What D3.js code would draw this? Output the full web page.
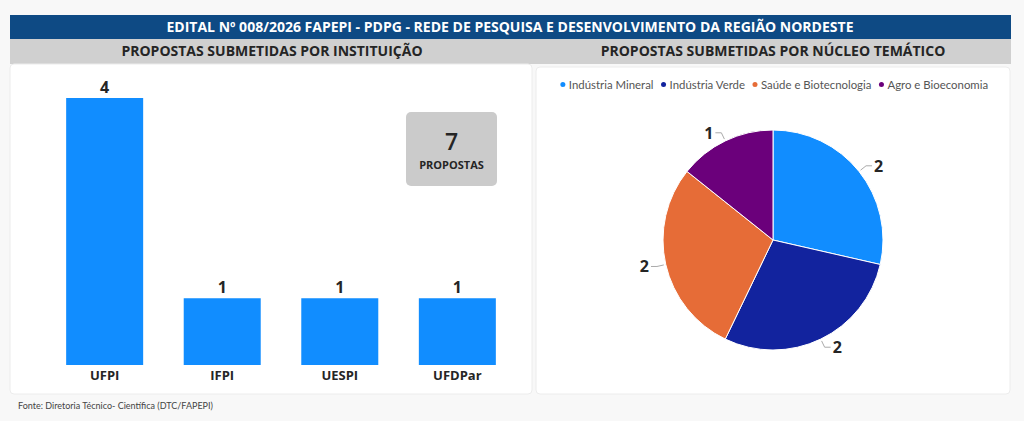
<!DOCTYPE html>
<html>
<head>
<meta charset="utf-8">
<script src="https://cdn.jsdelivr.net/npm/d3@7"></script>
<style>
  html, body { margin: 0; padding: 0; background: #f8f8f8; }
  svg { display: block; font-family: "Open Sans", "Noto Sans", sans-serif; }
</style>
</head>
<body>
<div id="chart"></div>
<script>
const width = 1024;
const height = 421;

// data
const institutions = ["UFPI", "IFPI", "UESPI", "UFDPar"];
const proposalsByInstitution = [4, 1, 1, 1];
const totalProposals = 7;
const themes = ["Indústria Mineral", "Indústria Verde", "Saúde e Biotecnologia", "Agro e Bioeconomia"];
const proposalsByTheme = [2, 2, 2, 1];
const themeColors = ["#118dff", "#12239e", "#e66c37", "#6b007b"];

const svg = d3.select("#chart")
  .append("svg")
  .attr("width", width)
  .attr("height", height);

// header bars
svg.append("rect").attr("x", 10).attr("y", 15).attr("width", 1001).attr("height", 24).attr("fill", "#0e4a84");
svg.append("text")
  .attr("x", 510).attr("y", 32)
  .attr("text-anchor", "middle")
  .attr("fill", "#fff")
  .style("font-size", "14px")
  .style("font-weight", "bold")
  .text("EDITAL Nº 008/2026 FAPEPI - PDPG - REDE DE PESQUISA E DESENVOLVIMENTO DA REGIÃO NORDESTE");

svg.append("rect").attr("x", 10).attr("y", 39).attr("width", 1001).attr("height", 25).attr("fill", "#d0d0d0");
svg.append("text")
  .attr("x", 272).attr("y", 56)
  .attr("text-anchor", "middle")
  .attr("fill", "#252525")
  .style("font-size", "14px")
  .style("font-weight", "bold")
  .text("PROPOSTAS SUBMETIDAS POR INSTITUIÇÃO");
svg.append("text")
  .attr("x", 773).attr("y", 56)
  .attr("text-anchor", "middle")
  .attr("fill", "#252525")
  .style("font-size", "14px")
  .style("font-weight", "bold")
  .text("PROPOSTAS SUBMETIDAS POR NÚCLEO TEMÁTICO");

// panels
svg.append("rect").attr("x", 10).attr("y", 64).attr("width", 522).attr("height", 330)
  .attr("rx", 4).attr("fill", "#fff").attr("stroke", "#ececec");
svg.append("rect").attr("x", 536).attr("y", 67).attr("width", 474).attr("height", 327)
  .attr("rx", 4).attr("fill", "#fff").attr("stroke", "#ececec");

// footer
svg.append("text")
  .attr("x", 18).attr("y", 409)
  .attr("fill", "#444")
  .style("font-family", "Lato, sans-serif")
  .style("font-size", "9px")
  .text("Fonte: Diretoria Técnico- Científica (DTC/FAPEPI)");

// bar chart
const barData = institutions.map((d, i) => ({ name: d, value: proposalsByInstitution[i] }));

const x = d3.scaleBand()
  .domain(institutions)
  .range([45, 517])
  .paddingInner(0.345)
  .paddingOuter(0.18);

const y = d3.scaleLinear()
  .domain([0, 4])
  .range([365, 98]);

const bars = svg.append("g");
bars.selectAll("rect")
  .data(barData)
  .join("rect")
  .attr("x", d => x(d.name))
  .attr("y", d => y(d.value))
  .attr("width", x.bandwidth())
  .attr("height", d => y(0) - y(d.value))
  .attr("fill", "#118dff");

bars.selectAll("text.value")
  .data(barData)
  .join("text")
  .attr("class", "value")
  .attr("x", d => x(d.name) + x.bandwidth() / 2)
  .attr("y", d => y(d.value) - 5)
  .attr("text-anchor", "middle")
  .attr("fill", "#252525")
  .style("font-size", "16px")
  .style("font-weight", "bold")
  .text(d => d.value);

const xAxis = svg.append("g")
  .attr("transform", `translate(0,${y(0)})`)
  .call(d3.axisBottom(x).tickSize(0).tickPadding(6));
xAxis.select(".domain").remove();
xAxis.selectAll("text")
  .attr("fill", "#252525")
  .style("font-family", "'Open Sans', sans-serif")
  .style("font-size", "13px")
  .style("font-weight", "bold");

// total card
const card = svg.append("g").attr("transform", "translate(406,112)");
card.append("rect").attr("width", 91).attr("height", 74).attr("rx", 5).attr("fill", "#cbcbcb");
card.append("text")
  .attr("x", 45.5).attr("y", 38)
  .attr("text-anchor", "middle")
  .attr("fill", "#252525")
  .style("font-size", "23px")
  .style("font-weight", "600")
  .text(totalProposals);
card.append("text")
  .attr("x", 45.5).attr("y", 57)
  .attr("text-anchor", "middle")
  .attr("fill", "#252525")
  .style("font-size", "11px")
  .style("font-weight", "bold")
  .text("PROPOSTAS");

// legend, centred over the pie panel
const legend = svg.append("g");
let lx = 0;
themes.forEach((t, i) => {
  legend.append("circle").attr("cx", lx + 3).attr("cy", 84.5).attr("r", 2.5).attr("fill", themeColors[i]);
  const txt = legend.append("text")
    .attr("x", lx + 9).attr("y", 88.5)
    .attr("fill", "#555")
    .style("font-family", "Lato, sans-serif")
    .style("font-size", "11.4px")
    .text(t);
  lx += 9 + txt.node().getComputedTextLength() + 7;
});
legend.attr("transform", `translate(${774 - (lx - 7) / 2},0)`);

// pie chart
const cx = 773, cy = 240, r = 110;
const color = d3.scaleOrdinal().domain(themes).range(themeColors);
const pieData = themes.map((d, i) => ({ name: d, value: proposalsByTheme[i] }));
const arcs = d3.pie().sort(null).value(d => d.value)(pieData);
const arc = d3.arc().innerRadius(0).outerRadius(r);

const pie = svg.append("g").attr("transform", `translate(${cx},${cy})`);
pie.selectAll("path")
  .data(arcs)
  .join("path")
  .attr("d", arc)
  .attr("fill", d => color(d.data.name))
  .attr("stroke", "#fff")
  .attr("stroke-width", 1);

// leader lines + labels
arcs.forEach(d => {
  const a = (d.startAngle + d.endAngle) / 2;
  const p0 = [Math.sin(a) * (r + 2), -Math.cos(a) * (r + 2)];
  const p1 = [Math.sin(a) * (r + 9), -Math.cos(a) * (r + 9)];
  const right = Math.sin(a) >= 0;
  const p2 = [p1[0] + (right ? 6 : -6), p1[1]];
  pie.append("polyline")
    .attr("points", [p0, p1, p2].map(p => p.join(",")).join(" "))
    .attr("fill", "none")
    .attr("stroke", "#aaa")
    .attr("stroke-width", 1);
  pie.append("text")
    .attr("x", p2[0] + (right ? 2 : -2))
    .attr("y", p2[1] + 6)
    .attr("text-anchor", right ? "start" : "end")
    .attr("fill", "#252525")
    .style("font-size", "16px")
    .style("font-weight", "bold")
    .text(d.data.value);
});
</script>
</body>
</html>
